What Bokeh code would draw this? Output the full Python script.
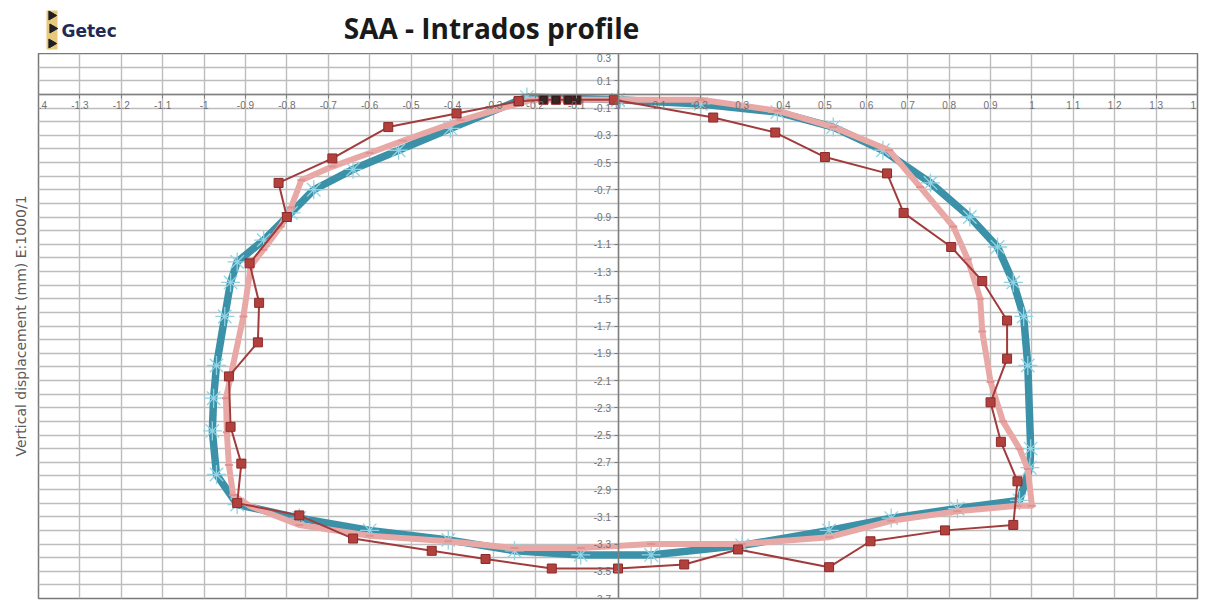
import math
from bokeh.plotting import figure
from bokeh.layouts import column
from bokeh.models import FixedTicker, PrintfTickFormatter, Label, Range1d, Title
from bokeh.embed import file_html
from bokeh.resources import INLINE

# ---------------- texts ----------------
title_text = "SAA - Intrados profile"
logo_text = "Getec"
y_label_text = "Vertical displacement (mm) E:1000/1"

# ---------------- ticks ----------------
x_ticks = [-1.4, -1.3, -1.2, -1.1, -1.0, -0.9, -0.8, -0.7, -0.6, -0.5, -0.4, -0.3, -0.2, -0.1,
           0.0, 0.1, 0.2, 0.3, 0.4, 0.5, 0.6, 0.7, 0.8, 0.9, 1.0, 1.1, 1.2, 1.3, 1.4]
y_ticks = [0.3, 0.1, -0.1, -0.3, -0.5, -0.7, -0.9, -1.1, -1.3, -1.5, -1.7, -1.9, -2.1, -2.3,
           -2.5, -2.7, -2.9, -3.1, -3.3, -3.5, -3.7]

# ---------------- series ----------------
# theoretical profile (teal, star markers)
teal_x = [0.0, 0.2, 0.385, 0.52, 0.64, 0.755, 0.85, 0.917, 0.955, 0.98, 0.99, 0.997, 0.995, 0.97,
          0.82, 0.66, 0.51, 0.3, 0.08, -0.09, -0.25, -0.41, -0.6, -0.77, -0.92,
          -0.97, -0.98, -0.977, -0.97, -0.95, -0.936, -0.92, -0.856, -0.79, -0.735, -0.64, -0.53,
          -0.405, -0.22, 0.0]
teal_y = [-0.04, -0.07, -0.13, -0.24, -0.41, -0.65, -0.9, -1.12, -1.38, -1.63, -1.99, -2.6, -2.74, -2.98,
          -3.04, -3.11, -3.2, -3.31, -3.38, -3.38, -3.35, -3.27, -3.2, -3.11, -3.01,
          -2.79, -2.47, -2.23, -1.99, -1.63, -1.38, -1.23, -1.07, -0.87, -0.7, -0.55, -0.41,
          -0.25, -0.02, -0.04]

# measured profile 1 (light pink, thick)
pink_x = [0.0, 0.2, 0.385, 0.52, 0.655, 0.73, 0.81, 0.845, 0.875, 0.88, 0.9, 0.93, 0.97, 0.99, 1.0,
          0.965, 0.82, 0.66, 0.51, 0.3, 0.08, -0.09, -0.25, -0.41, -0.6, -0.77, -0.89,
          -0.93, -0.94, -0.945, -0.947, -0.905, -0.887, -0.857, -0.815, -0.79, -0.765, -0.69,
          -0.6, -0.52, -0.38, -0.21, 0.0]
pink_y = [-0.04, -0.04, -0.12, -0.24, -0.41, -0.68, -0.97, -1.21, -1.5, -1.74, -2.11, -2.4, -2.6, -2.75, -3.02,
          -3.02, -3.06, -3.13, -3.25, -3.3, -3.3, -3.33, -3.33, -3.28, -3.24, -3.16, -3.02,
          -2.94, -2.72, -2.48, -2.23, -1.63, -1.26, -1.14, -0.97, -0.83, -0.63, -0.53,
          -0.43, -0.34, -0.19, -0.04, -0.04]

# measured profile 2 (dark red, squares)
red_x = [-0.24, -0.18, -0.15, -0.12, -0.1, -0.01, 0.23, 0.38, 0.5, 0.65, 0.69, 0.805, 0.88, 0.94,
         0.94, 0.9, 0.925, 0.965, 0.955, 0.79, 0.61, 0.51, 0.29, 0.16, 0.0, -0.16, -0.32,
         -0.45, -0.64, -0.77, -0.92, -0.91, -0.936, -0.94, -0.87, -0.867, -0.89, -0.8, -0.82,
         -0.69, -0.555, -0.39, -0.24]
red_y = [-0.05, -0.04, -0.04, -0.04, -0.04, -0.04, -0.17, -0.28, -0.46, -0.58, -0.87, -1.12, -1.37, -1.66,
         -1.94, -2.26, -2.55, -2.84, -3.16, -3.2, -3.28, -3.47, -3.34, -3.45, -3.48, -3.48, -3.41,
         -3.35, -3.26, -3.09, -3.0, -2.71, -2.44, -2.07, -1.82, -1.53, -1.24, -0.9, -0.65,
         -0.47, -0.24, -0.14, -0.05]

# dark cluster near the crown
dark_x = [-0.18, -0.15, -0.12, -0.1]
dark_y = [-0.04, -0.04, -0.04, -0.04]

W = 1205
HEAD_H = 53
MAIN_H = 551
FRAME_L, FRAME_R = 38, 1197

# ---------------- header (title + logo) ----------------
# the column aligns this frame with the chart frame below, so data x == page x here
head = figure(width=W, height=HEAD_H, output_backend="svg", toolbar_location=None,
              x_range=Range1d(FRAME_L, FRAME_R), y_range=Range1d(HEAD_H, 0),
              x_axis_type=None, y_axis_type=None,
              min_border=0, min_border_left=FRAME_L, min_border_right=W - FRAME_R,
              min_border_top=0, min_border_bottom=0)
head.outline_line_color = None
head.grid.visible = False
head.background_fill_color = "white"
head.border_fill_color = "white"

# logo icon
head.quad(left=[46], right=[57], top=[10], bottom=[49], fill_color="#e4c063", fill_alpha=0.85,
          line_color=None)
head.scatter(x=[51, 52, 51], y=[15, 28, 43], marker="triangle", angle=-math.pi / 2,
             size=9, fill_color="#1e1e28", line_color="#1e1e28")
head.add_layout(Label(x=61, y=30, text=logo_text, text_align="left",
                      text_baseline="middle", text_font="DejaVu Sans", text_font_style="bold",
                      text_font_size="17px", text_color="#1f2a55"))
head.add_layout(Label(x=491, y=27, text=title_text, text_align="center",
                      text_baseline="middle", text_font="Open Sans", text_font_style="bold",
                      text_font_size="28px", text_color="#1a1a1a"))

# ---------------- main chart ----------------
p = figure(width=W, height=MAIN_H, output_backend="svg", toolbar_location=None,
           x_range=Range1d(-1.4, 1.4), y_range=Range1d(-3.7, 0.3),
           min_border_left=FRAME_L, min_border_right=W - FRAME_R,
           min_border_top=0, min_border_bottom=6)
p.background_fill_color = "white"
p.border_fill_color = "white"
p.outline_line_color = "#7a7a7a"
p.outline_line_width = 1.5

# grid
p.xgrid.ticker = FixedTicker(ticks=x_ticks)
p.ygrid.ticker = FixedTicker(ticks=[0.3 - 0.1 * i for i in range(41)])
for g in (p.xgrid, p.ygrid):
    g.grid_line_color = "#bdbdbd"
    g.grid_line_width = 1.4

# axes crossing at origin
for ax in (p.xaxis, p.yaxis):
    ax.fixed_location = 0
    ax.axis_line_color = "#7f7f7f"
    ax.axis_line_width = 1.5
    ax.major_tick_line_color = "#7f7f7f"
    ax.major_tick_in = 0
    ax.major_tick_out = 4
    ax.minor_tick_line_color = None
    ax.major_label_text_font = "Liberation Sans"
    ax.major_label_text_font_size = "10px"
    ax.major_label_text_color = "#707070"
    ax.major_label_standoff = 3
    ax.formatter = PrintfTickFormatter(format="%g")
p.xaxis.ticker = FixedTicker(ticks=x_ticks)
p.yaxis.ticker = FixedTicker(ticks=y_ticks)

# y label on the left side
p.add_layout(Title(text=y_label_text, align="center", text_font="DejaVu Sans",
                   text_font_size="14px", text_font_style="normal", text_color="#5a5a5a",
                   standoff=19), "left")

# series
p.line(teal_x, teal_y, line_color="#3b91a7", line_width=7.5, line_join="round")
p.scatter(teal_x, teal_y, marker="asterisk", size=19, line_color="#8fd3e4", line_width=1.3)

p.line(pink_x, pink_y, line_color="#e8a8a6", line_width=6, line_join="round")
p.scatter(pink_x, pink_y, marker="dash", size=8, line_color="#df9290", line_width=2)

p.line(red_x, red_y, line_color="#a23b3b", line_width=2)
p.scatter(red_x, red_y, marker="square", size=9, fill_color="#b2403d", line_color="#8b2b2b")
p.scatter(dark_x, dark_y, marker="square", size=7, fill_color="#3a2626", line_color="#2a1a1a")

layout = column(head, p, spacing=0)
open("out.html", "w").write(file_html(layout, INLINE))
